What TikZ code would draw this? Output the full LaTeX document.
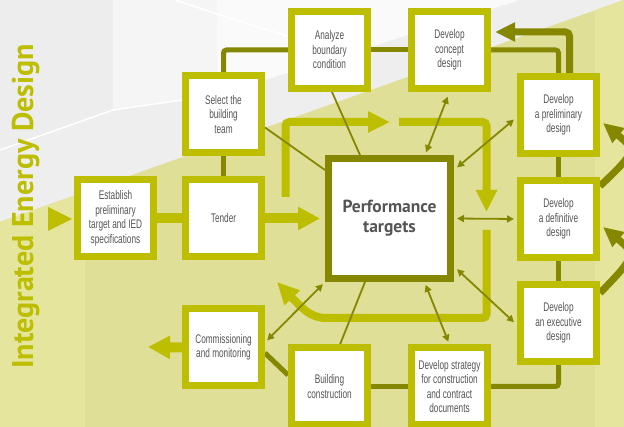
\documentclass[tikz,border=0pt]{standalone}
\usepackage{fontspec}
\setmainfont{Liberation Sans}
\newfontfamily\boxfont[FakeStretch=0.66]{Liberation Sans}
\newfontfamily\headfont{PT Sans}
\usetikzlibrary{positioning,arrows.meta}
\definecolor{iedlime}{RGB}{189,190,0}
\definecolor{iedolive}{RGB}{133,135,0}
\definecolor{iedtext}{RGB}{85,85,85}
\definecolor{iedgray}{RGB}{238,238,238}
\definecolor{iedpale}{RGB}{223,223,151}
\definecolor{iedpaler}{RGB}{229,229,157}
\pgfdeclarelayer{back}
\pgfdeclarelayer{links}
\pgfsetlayers{back,links,main}
\tikzset{box/.style = {draw=iedlime, line width=7pt, fill=white, minimum width=76pt, minimum height=77pt, inner sep=1pt, align=center, text=iedtext, font=\boxfont\fontsize{12.5}{14.5}\selectfont}}
\tikzset{target/.style = {draw=iedolive, line width=7pt, fill=white, minimum width=122pt, minimum height=120pt, align=center, text=iedtext, font=\headfont\bfseries\fontsize{17.5}{20}\selectfont}}
\tikzset{title/.style = {rotate=90, anchor=base, text=iedlime, font=\headfont\bfseries\fontsize{30}{34}\selectfont}}
\tikzset{darkbar/.style = {draw=iedolive, line width=5pt}}
\tikzset{limebar/.style = {draw=iedlime, line width=10pt}}
\tikzset{limearrow/.style = {draw=iedlime, line width=10pt, -{Triangle[length=22pt, width=22pt]}}}
\tikzset{limeflow/.style = {draw=iedlime, line width=8pt, -{Triangle[length=22pt, width=20pt]}}}
\tikzset{darkarrow/.style = {draw=iedolive, line width=7pt, -{Triangle[length=20pt, width=18pt]}}}
\tikzset{thinlink/.style = {draw=iedolive, line width=1.8pt}}
\tikzset{twoway/.style = {draw=iedolive, line width=1.8pt, {Triangle[length=7pt, width=7pt]}-{Triangle[length=7pt, width=7pt]}}}

\begin{document}
\begin{tikzpicture}[x=1pt, y=-1pt, node distance=20pt]
  \useasboundingbox (0,0) rectangle (624,427);
  \clip (0,0) rectangle (624,427);

  \node [box] (tend) at (223.5,218.5) {Tender};
  \node [box, left=25pt of tend] (est) {Establish\\preliminary\\target and IED\\specifications};
  \node [box, above=of tend] (sel) {Select the\\building\\team};
  \node [box, below=45pt of tend] (comm) {Commissioning\\and monitoring};
  \node [box] (ana) at (329.5,50) {Analyze\\boundary\\condition};
  \node [box, right=37pt of ana] (con) {Develop\\concept\\design};
  \node [box] (pre) at (558.5,115) {Develop\\a preliminary\\design};
  \node [box, below=of pre] (def) {Develop\\a definitive\\design};
  \node [box, below=of def] (exe) {Develop\\an executive\\design};
  \node [box] (bld) at (329.5,386.5) {Building\\construction};
  \node [box, right=37pt of bld] (str) {Develop strategy\\for construction\\and contract\\documents};
  \node [target] (perf) at (389.5,218.5) {Performance\\targets};
  \node [title] (ttl) at (33,206.5) {Integrated Energy Design};

  \coordinate (entry) at (48,219);
  \coordinate (out) at (148,347);
  \coordinate (fb) at (495,32);
  \coordinate (f1) at (285.5,197);
  \coordinate (f2) at (390,122);
  \coordinate (f3) at (399,122);
  \coordinate (f4) at (486.5,212);
  \coordinate (f5) at (486.5,230);
  \coordinate (f6) at (277,282);

  \begin{pgfonlayer}{back}
    \fill[iedgray] (0,0) rectangle (624,427);
    \fill[black!7] (0,0) -- (113,0) -- (113,110) -- (0,150) -- cycle;
    \fill[black!4] (113,0) -- (217,0) -- (217,95) -- (113,110) -- cycle;
    \fill[black!2] (217,0) -- (520,0) -- (217,95) -- cycle;
    \draw[white, line width=1.5pt] (0,150) -- (113,110) -- (217,95);
    \draw[white, line width=1.5pt] (175,0) -- (217,14) -- (300,40);
    \fill[iedpale] (0,222) -- (624,0) -- (624,427) -- (0,427) -- cycle;
    \fill[iedpaler] (0,222) -- (85,192) -- (85,427) -- (0,427) -- cycle;
    \fill[iedpaler] (595,10) -- (624,0) -- (624,427) -- (595,427) -- cycle;
  \end{pgfonlayer}

  \begin{pgfonlayer}{links}
    \fill[iedlime] (entry) ++(0,-12) -- ++(24,12) -- ++(-24,12) -- cycle;
    \draw[limebar] (est.east) -- (tend.west);
    \draw[darkbar] (sel.south) -- (tend.north);
    \draw[darkbar, rounded corners=3pt] (sel.north) |- (ana.west);
    \draw[darkbar] (ana.east) -- (con.west);
    \draw[darkbar, rounded corners=3pt] (con.east) -| (pre.north);
    \draw[darkarrow, rounded corners=4pt] ([xshift=11pt]pre.north) |- (fb);
    \draw[darkbar] (pre.south) -- (def.north);
    \draw[darkbar] (def.south) -- (exe.north);
    \draw[darkbar, rounded corners=3pt] (exe.south) |- (str.east);
    \draw[darkbar] (str.west) -- (bld.east);
    \draw[darkbar] ([yshift=-5.5pt]comm.east) -- ([yshift=11.5pt]bld.west);
    \draw[limearrow] (comm.west) -- (out);
    \draw[limearrow] (tend.east) -- ([xshift=-5pt]perf.west);

    \draw[limeflow, rounded corners=4pt] (f1) |- (f2);
    \draw[limeflow, rounded corners=4pt] (f3) -| (f4);
    \draw[limeflow, rounded corners=4pt] (f5) |- (330,318) .. controls (310,318) and (301,307) .. (f6);

    \draw[thinlink] ([yshift=-13pt]sel.east) -- ([yshift=48.5pt]perf.west);
    \draw[thinlink] ([xshift=2.5pt]ana.south) -- ([xshift=-29.5pt]perf.north);
    \draw[thinlink] ([xshift=-24.5pt]perf.south) -- ([xshift=10.5pt]bld.north);

    \draw[twoway, shorten <=5pt, shorten >=3pt] (con.south) -- ([xshift=35.5pt]perf.north);
    \draw[twoway, shorten <=4pt, shorten >=4pt] ([yshift=-2pt]pre.west) -- ([yshift=48.5pt]perf.east);
    \draw[twoway, shorten <=3pt, shorten >=3pt] (perf.east) -- (def.west);
    \draw[twoway, shorten <=4pt, shorten >=4pt] ([yshift=-48pt]perf.east) -- ([yshift=-2pt]exe.west);
    \draw[twoway, shorten <=3pt, shorten >=3pt] ([xshift=35pt]perf.south) -- (str.north);
    \draw[twoway, shorten <=3pt, shorten >=3pt] ([yshift=5pt]comm.east) -- (perf.south west);

    \draw[darkarrow] ([yshift=33pt]def.east) .. controls (636,152) and (636,150) .. ([xshift=3pt, yshift=-8pt]pre.east);
    \draw[darkarrow] ([yshift=30pt]exe.east) .. controls (636,256) and (636,254) .. ([xshift=3pt, yshift=-8pt]def.east);
  \end{pgfonlayer}
\end{tikzpicture}
\end{document}
